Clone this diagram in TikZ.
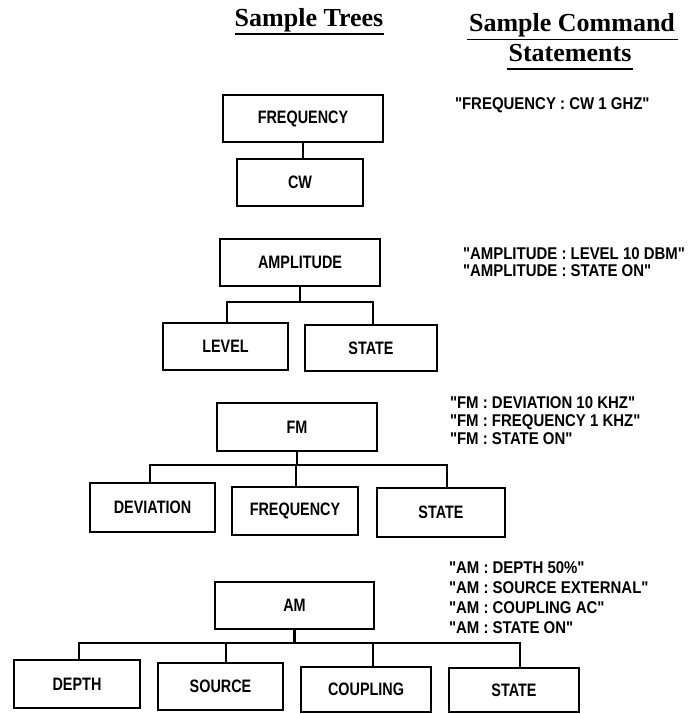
\documentclass[tikz,border=0pt]{standalone}
\usepackage{fontspec}
\setmainfont{Liberation Sans}
\newfontfamily\labfont[FakeStretch=0.8]{Liberation Sans}
\newfontfamily\stmtfont[FakeStretch=0.88]{Liberation Sans}
\newfontfamily\headfont{Liberation Serif}
\begin{document}
\begin{tikzpicture}[x=1pt,y=-1pt,
  box/.style={draw, line width=2.6pt, inner sep=0pt, outer sep=0pt,
    font=\labfont\bfseries\fontsize{18}{20}\selectfont},
  stmt/.style={inner sep=0pt, outer sep=0pt, align=left, anchor=north west,
    font=\stmtfont\bfseries\fontsize{17}{17}\selectfont},
  head/.style={inner sep=0pt, outer sep=0pt, anchor=base,
    font=\headfont\bfseries\fontsize{26}{30}\selectfont},
  uline/.style={line width=1.5pt},
  conn/.style={line width=2.6pt, line join=miter}]
\useasboundingbox (0,0) rectangle (697,714);

% headings
\node[head] (h1) at (309,27) {Sample Trees};
\node[head] (h2) at (572,32) {Sample Command};
\node[head] (h3) at (570,62) {Statements};
\path (h1.base west) ++(0,7) coordinate (u1a) (h1.base east) ++(1,7) coordinate (u1b);
\draw[uline] (u1a) -- (u1b);
\path (h2.base west) ++(-2,7.5) coordinate (u2a) (h2.base east) ++(3,7.5) coordinate (u2b);
\draw[uline] (u2a) -- (u2b);
\path (h3.base west) ++(-2,7) coordinate (u3a) (h3.base east) ++(2,7) coordinate (u3b);
\draw[uline] (u3a) -- (u3b);

% tree 1
\node[box, minimum width=160, minimum height=47] (freq) at (303,118.5) {FREQUENCY};
\node[box, minimum width=126, minimum height=47] (cw) at (300,182.5) {CW};
\draw[conn] (freq.south) -- (freq.south |- cw.north);
\node[stmt] (t1) at (455,98) {"FREQUENCY : CW 1 GHZ"};

% tree 2
\node[box, minimum width=160, minimum height=47] (amp) at (300,262.5) {AMPLITUDE};
\node[box, minimum width=125, minimum height=47] (level) at (225.5,346.5) {LEVEL};
\node[box, minimum width=132, minimum height=46] (state1) at (371,348) {STATE};
\coordinate (ab1) at (227,302);
\coordinate (ab2) at (373,302);
\draw[conn] (amp.south) -- (amp.south |- ab1);
\draw[conn] (ab1 |- level.north) -- (ab1) -- (ab2) -- (ab2 |- state1.north);
\node[stmt] (t2) at (463,248) {"AMPLITUDE : LEVEL 10 DBM"\\"AMPLITUDE : STATE ON"};

% tree 3
\node[box, minimum width=160, minimum height=48] (fm) at (297,427) {FM};
\node[box, minimum width=125, minimum height=49] (dev) at (152.5,507.5) {DEVIATION};
\node[box, minimum width=126, minimum height=48] (freq2) at (295,511) {FREQUENCY};
\node[box, minimum width=128, minimum height=49] (state2) at (441,512.5) {STATE};
\coordinate (fb1) at (150,465);
\coordinate (fb2) at (296,465);
\coordinate (fb3) at (447,465);
\draw[conn] (fm.south) -- (fm.south |- fb1);
\draw[conn] (fb1 |- dev.north) -- (fb1) -- (fb3) -- (fb3 |- state2.north);
\draw[conn] (fb2) -- (fb2 |- freq2.north);
\node[stmt, font=\stmtfont\bfseries\fontsize{17}{18}\selectfont] (t3) at (450,397) {"FM : DEVIATION 10 KHZ"\\"FM : FREQUENCY 1 KHZ"\\"FM : STATE ON"};

% tree 4
\node[box, minimum width=159, minimum height=47] (am) at (294.5,605.5) {AM};
\node[box, minimum width=126, minimum height=48] (depth) at (77,684) {DEPTH};
\node[box, minimum width=125, minimum height=47] (source) at (220.5,686.5) {SOURCE};
\node[box, minimum width=130, minimum height=45] (coupling) at (366,689.5) {COUPLING};
\node[box, minimum width=130, minimum height=44] (state3) at (514,690) {STATE};
\coordinate (mb1) at (79,643);
\coordinate (mb2) at (226,643);
\coordinate (mb3) at (373,643);
\coordinate (mb4) at (520,643);
\draw[conn] (am.south) -- (am.south |- mb1);
\draw[conn] (mb1 |- depth.north) -- (mb1) -- (mb4) -- (mb4 |- state3.north);
\draw[conn] (mb2) -- (mb2 |- source.north);
\draw[conn] (mb3) -- (mb3 |- coupling.north);
\node[stmt, font=\stmtfont\bfseries\fontsize{17}{20}\selectfont] (t4) at (449,562) {"AM : DEPTH 50\%"\\"AM : SOURCE EXTERNAL"\\"AM : COUPLING AC"\\"AM : STATE ON"};
\end{tikzpicture}
\end{document}
